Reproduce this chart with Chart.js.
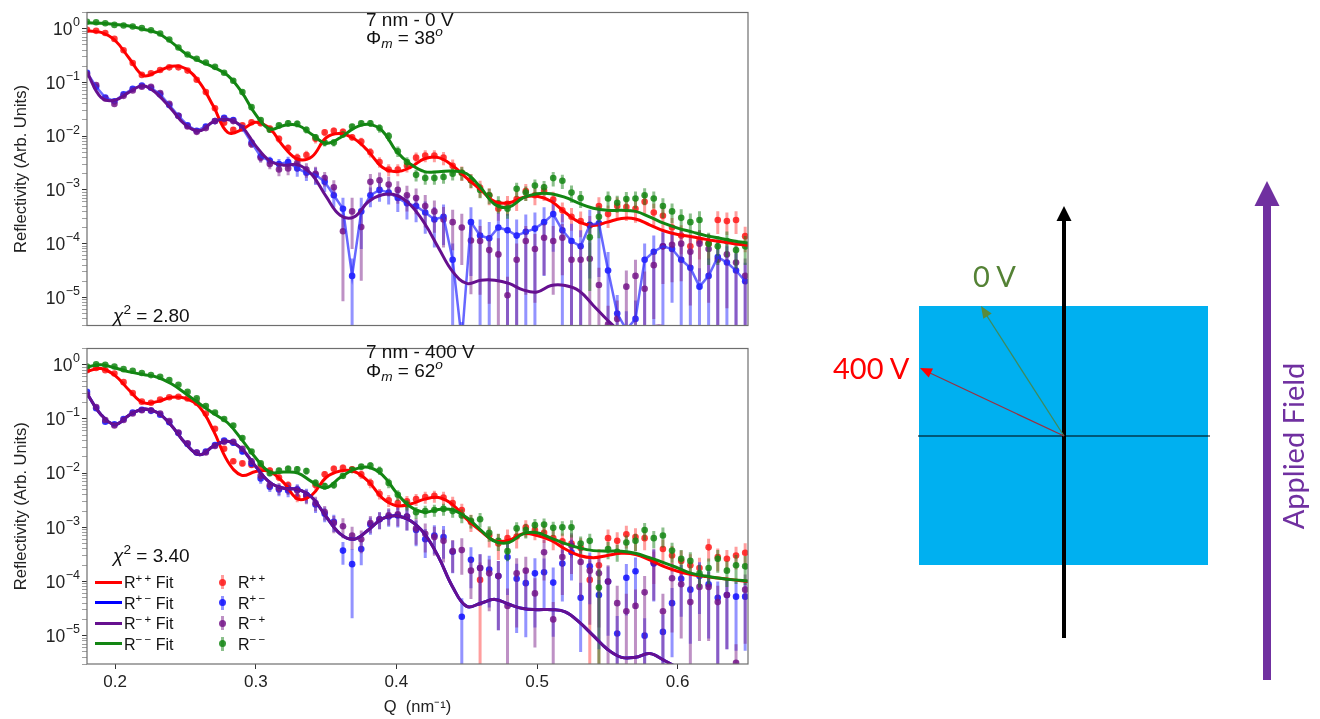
<!DOCTYPE html>
<html>
<head>
<meta charset="utf-8">
<title>Reflectivity fits</title>
<script src="https://cdn.jsdelivr.net/npm/chart.js@4.4.1/dist/chart.umd.min.js"></script>
<style>
html,body{margin:0;padding:0;background:#fff;}
body{width:1320px;height:719px;position:relative;overflow:hidden;font-family:"Liberation Sans",Arial,Helvetica,sans-serif;}
canvas{position:absolute;left:0;}
#cA{top:0;}
#cB{top:336px;}
.t{position:absolute;font-size:19px;line-height:19px;color:#111;white-space:nowrap;}
.t sub,.t sup{font-size:0.72em;line-height:0;position:relative;vertical-align:baseline;}
.t sub{top:0.3em;}
.t sup{top:-0.55em;}
.lg{position:absolute;font-size:16px;line-height:16px;color:#111;white-space:nowrap;}
.lg sup{font-size:0.72em;line-height:0;position:relative;vertical-align:baseline;top:-0.55em;}
.ln{position:absolute;height:3px;width:27px;}
.eb{position:absolute;width:3px;height:14px;}
.dot{position:absolute;width:7px;height:7px;border-radius:50%;}
svg{position:absolute;left:0;top:0;}
</style>
</head>
<body>
<canvas id="cA" width="760" height="338"></canvas>
<canvas id="cB" width="760" height="383"></canvas>

<div class="t" style="left:366px;top:10px;">7 nm - 0 V</div>
<div class="t" style="left:366px;top:28px;">&Phi;<sub><i>m</i></sub> = 38<sup><i>o</i></sup></div>
<div class="t" style="left:113px;top:306px;"><i>&chi;</i><sup>2</sup> = 2.80</div>

<div class="t" style="left:366px;top:342px;">7 nm - 400 V</div>
<div class="t" style="left:366px;top:361px;">&Phi;<sub><i>m</i></sub> = 62<sup><i>o</i></sup></div>
<div class="t" style="left:113px;top:546px;"><i>&chi;</i><sup>2</sup> = 3.40</div>

<div id="legend"></div>

<svg width="1320" height="719" viewBox="0 0 1320 719">
  <rect x="919" y="306" width="289" height="259" fill="#00B0F0"/>
  <line x1="918" y1="436" x2="1210" y2="436" stroke="#000" stroke-width="1"/>
  <line x1="1064" y1="638" x2="1064" y2="218" stroke="#000" stroke-width="4"/>
  <polygon points="1064,206 1056.5,221 1071.5,221" fill="#000"/>
  <line x1="1064" y1="436" x2="987" y2="316" stroke="#3f8a5c" stroke-width="1.3"/>
  <polygon points="981,306 991.7,313.4 983.3,318.8" fill="#5b8a3a"/>
  <line x1="1064" y1="436" x2="930" y2="373" stroke="#9a3040" stroke-width="1.3"/>
  <polygon points="920,368 933,368.6 928.7,377.6" fill="#ff0000"/>
  <rect x="1263" y="200" width="8" height="480" fill="#7030A0"/>
  <polygon points="1267,181 1254.5,206 1279.5,206" fill="#7030A0"/>
  <text x="973" y="287" font-family="Lato, 'Open Sans', sans-serif" font-size="29" fill="#548235">0 V</text>
  <text x="833" y="379" font-family="Lato, 'Open Sans', sans-serif" font-size="29" fill="#ff0000">400 V</text>
  <text transform="translate(1304,446) rotate(-90)" text-anchor="middle" font-family="Lato, 'Open Sans', sans-serif" font-size="29" fill="#7030A0">Applied Field</text>
</svg>

<script>
// ---------------- DATA (values are log10 of reflectivity) ----------------
const qData = [0.1800,0.1865,0.1930,0.1995,0.2060,0.2125,0.2190,0.2255,0.2320,0.2385,
0.2450,0.2515,0.2580,0.2645,0.2710,0.2775,0.2840,0.2905,0.2970,0.3035,
0.3100,0.3165,0.3230,0.3295,0.3360,0.3425,0.3490,0.3555,0.3620,0.3685,
0.3750,0.3815,0.3880,0.3945,0.4010,0.4075,0.4140,0.4205,0.4270,0.4335,
0.4400,0.4465,0.4530,0.4595,0.4660,0.4725,0.4790,0.4855,0.4920,0.4985,
0.5050,0.5115,0.5180,0.5245,0.5310,0.5375,0.5440,0.5505,0.5570,0.5635,
0.5700,0.5765,0.5830,0.5895,0.5960,0.6025,0.6090,0.6155,0.6220,0.6285,
0.6350,0.6415,0.6480];

const qFit = [0.18,0.19,0.20,0.21,0.22,0.23,0.24,0.25,0.26,0.27,
0.28,0.29,0.30,0.31,0.32,0.33,0.34,0.35,0.36,0.37,
0.38,0.39,0.40,0.41,0.42,0.43,0.44,0.45,0.46,0.47,
0.48,0.49,0.50,0.51,0.52,0.53,0.54,0.55,0.56,0.57,
0.58,0.59,0.60,0.61,0.62,0.63,0.64,0.65];

// ---- top panel: 7 nm - 0 V ----
const topFitPP = [-0.04,-0.07,-0.22,-0.55,-0.87,-0.80,-0.70,-0.74,-1.00,-1.45,
-1.93,-1.88,-1.74,-1.86,-2.20,-2.43,-2.38,-2.03,-1.95,-2.05,
-2.28,-2.58,-2.66,-2.58,-2.42,-2.40,-2.55,-2.78,-3.00,-3.22,
-3.24,-3.14,-3.12,-3.21,-3.42,-3.60,-3.66,-3.60,-3.53,-3.54,
-3.65,-3.76,-3.83,-3.87,-3.92,-3.96,-4.00,-4.03];
const topFitMP = [-0.81,-1.28,-1.33,-1.18,-1.06,-1.22,-1.50,-1.79,-1.90,-1.73,
-1.69,-1.82,-2.18,-2.46,-2.54,-2.53,-2.72,-3.12,-3.47,-3.50,
-3.22,-3.09,-3.10,-3.28,-3.62,-4.08,-4.52,-4.74,-4.68,-4.68,
-4.74,-4.86,-4.90,-4.78,-4.78,-4.88,-5.15,-5.42,-5.65,-5.80,
-5.58,-5.55,-5.80,-6.00,-6.20,-6.30,-6.40,-6.50];
const topFitMM = [0.11,0.10,0.08,0.05,-0.01,-0.08,-0.25,-0.46,-0.60,-0.72,
-0.87,-1.18,-1.60,-1.87,-1.80,-1.80,-1.97,-2.13,-2.03,-1.85,
-1.78,-1.90,-2.28,-2.52,-2.66,-2.66,-2.65,-2.70,-2.96,-3.27,
-3.32,-3.15,-3.07,-3.07,-3.14,-3.25,-3.34,-3.38,-3.38,-3.40,
-3.50,-3.62,-3.71,-3.78,-3.85,-3.90,-3.95,-3.99];

const topDatPP = [-0.02,-0.04,-0.08,-0.19,-0.40,-0.64,-0.86,-0.83,-0.77,-0.72,
-0.72,-0.78,-0.95,-1.18,-1.48,-1.75,-1.88,-1.80,-1.74,-1.76,
-1.86,-2.05,-2.22,-2.40,-2.35,-2.05,-1.93,-1.90,-1.92,-2.02,
-2.10,-2.30,-2.48,-2.62,-2.62,-2.55,-2.40,-2.36,-2.36,-2.40,
-2.55,-2.68,-2.82,-2.96,-3.10,-3.35,-3.26,-3.17,-3.02,-3.10,
-3.02,-3.18,-3.38,-3.50,-3.58,-3.66,-3.30,-3.45,-3.30,-3.32,
-3.35,-3.22,-3.42,-3.48,-3.70,-3.85,-4.05,-3.95,-4.00,-3.56,
-3.58,-3.56,-3.86];
const topDatPM = [-0.82,-1.08,-1.28,-1.35,-1.22,-1.12,-1.06,-1.10,-1.22,-1.42,
-1.62,-1.80,-1.90,-1.82,-1.72,-1.66,-1.70,-1.85,-2.12,-2.38,
-2.46,-2.52,-2.48,-2.60,-2.68,-2.72,-2.85,-3.10,-3.35,-4.60,
-3.40,-3.10,-3.00,-3.05,-3.15,-3.25,-3.30,-3.42,-3.55,-3.50,
-4.30,-5.80,-3.60,-3.85,-3.90,-3.70,-3.75,-3.85,-3.78,-3.72,
-3.60,-3.45,-3.75,-3.95,-4.05,-3.65,-3.62,-4.50,-5.30,-5.60,
-5.40,-4.30,-4.15,-4.05,-4.10,-4.30,-4.45,-4.80,-4.60,-4.25,
-4.35,-4.50,-4.70];
const topDatMP = [-0.85,-1.05,-1.30,-1.40,-1.25,-1.15,-1.08,-1.08,-1.20,-1.40,
-1.62,-1.82,-1.92,-1.85,-1.72,-1.68,-1.72,-1.85,-2.15,-2.40,
-2.52,-2.62,-2.60,-2.50,-2.62,-2.70,-2.78,-2.95,-3.77,-3.40,
-3.69,-2.85,-2.82,-2.90,-3.00,-3.10,-3.15,-3.30,-3.40,-3.55,
-3.60,-3.70,-3.94,-3.95,-4.12,-4.20,-4.96,-4.30,-3.95,-4.10,
-3.89,-3.95,-3.89,-4.30,-4.30,-4.28,-4.77,-5.50,-5.40,-4.80,
-4.60,-4.84,-4.40,-4.05,-4.02,-4.00,-4.15,-4.00,-4.10,-4.30,
-4.20,-4.35,-4.60];
const topDatMM = [0.13,0.12,0.10,0.07,0.06,0.04,0.01,-0.03,-0.09,-0.20,
-0.35,-0.48,-0.56,-0.63,-0.71,-0.82,-0.97,-1.18,-1.46,-1.70,
-1.88,-1.80,-1.76,-1.77,-1.88,-2.02,-2.12,-2.12,-1.97,-1.82,
-1.76,-1.76,-1.85,-2.00,-2.28,-2.48,-2.72,-2.78,-2.78,-2.76,
-2.70,-2.68,-2.82,-3.00,-3.10,-3.25,-3.35,-2.98,-3.05,-2.92,
-2.95,-2.78,-2.83,-3.05,-3.15,-3.88,-3.50,-3.16,-3.24,-3.17,
-3.16,-3.10,-3.16,-3.30,-3.40,-3.52,-3.60,-3.56,-4.00,-4.05,
-3.95,-4.12,-4.05];

// relative errors sigma/R
const topErrPP = [.05,.05,.05,.05,.05,.05,.06,.06,.06,.06,.06,.07,.08,.08,.10,.10,.12,.12,.12,.12,
.15,.15,.18,.20,.20,.18,.15,.15,.15,.15,.18,.20,.22,.25,.25,.25,.25,.25,.25,.28,
.30,.30,.30,.35,.35,.40,.40,.40,.35,.35,.35,.40,.40,.45,.50,.50,.45,.45,.45,.45,
.45,.40,.45,.50,.50,.55,.60,.55,.50,.45,.45,.45,.50];
const topErrPM = [.05,.05,.06,.06,.06,.06,.06,.07,.07,.08,.08,.10,.10,.10,.10,.10,.12,.12,.15,.20,
.20,.25,.25,.30,.30,.35,.35,.40,.60,1.1,.80,.40,.40,.40,.45,.50,.50,.60,.70,.70,
1.0,1.2,.90,1.0,1.0,.90,1.0,1.0,1.1,1.0,.90,.80,1.0,1.1,1.0,.90,.90,1.2,1.2,1.2,
1.2,1.0,1.0,1.0,.90,1.0,1.1,1.2,1.1,1.0,1.0,1.1,1.2];
const topErrMP = [.05,.05,.06,.06,.06,.06,.06,.07,.07,.08,.08,.10,.10,.10,.10,.10,.12,.12,.15,.20,
.20,.25,.25,.30,.30,.35,.30,.35,.95,.80,.90,.40,.40,.40,.45,.50,.50,.60,.60,.70,
.70,.80,.90,.90,.90,1.0,1.2,1.0,.90,.90,.80,.90,.80,1.0,1.0,1.0,1.1,1.2,1.2,1.0,
1.0,1.1,.90,.80,.80,.80,.90,.80,.90,1.0,.90,1.0,1.1];
const topErrMM = [.04,.04,.04,.04,.04,.04,.05,.05,.05,.05,.05,.06,.06,.07,.08,.08,.10,.10,.10,.12,
.12,.12,.15,.15,.15,.15,.15,.15,.12,.12,.12,.15,.18,.20,.22,.22,.25,.25,.25,.25,
.25,.28,.28,.30,.32,.35,.35,.30,.30,.30,.30,.30,.30,.35,.35,.90,.60,.35,.35,.35,
.35,.35,.35,.40,.40,.45,.45,.45,.60,.55,.50,.55,.55];

// ---- bottom panel: 7 nm - 400 V ----
const botFitPP = [-0.12,-0.07,-0.20,-0.47,-0.70,-0.68,-0.60,-0.62,-0.78,-1.22,
-1.78,-2.04,-1.97,-1.97,-2.18,-2.48,-2.40,-2.08,-1.96,-1.97,
-2.15,-2.46,-2.60,-2.57,-2.48,-2.45,-2.58,-2.85,-3.07,-3.25,
-3.24,-3.12,-3.15,-3.24,-3.40,-3.52,-3.56,-3.52,-3.48,-3.50,
-3.60,-3.72,-3.81,-3.87,-3.91,-3.94,-3.97,-4.00];
const botFitPM = [-0.53,-0.92,-1.10,-0.93,-0.82,-0.88,-1.12,-1.45,-1.66,-1.50,
-1.41,-1.55,-1.88,-2.17,-2.28,-2.30,-2.45,-2.80,-3.12,-3.22,
-3.05,-2.84,-2.79,-2.88,-3.12,-3.55,-4.10,-4.46,-4.40,-4.33,
-4.42,-4.50,-4.52,-4.52,-4.56,-4.75,-5.00,-5.25,-5.40,-5.40,
-5.33,-5.45,-5.60,-5.80,-6.00,-6.20,-6.40,-6.60];
const botFitMP = [-0.53,-0.92,-1.10,-0.93,-0.82,-0.88,-1.12,-1.45,-1.66,-1.50,
-1.41,-1.55,-1.88,-2.17,-2.28,-2.30,-2.45,-2.80,-3.12,-3.22,
-3.05,-2.84,-2.79,-2.88,-3.12,-3.55,-4.10,-4.46,-4.40,-4.33,
-4.42,-4.50,-4.52,-4.52,-4.56,-4.75,-5.00,-5.25,-5.40,-5.40,
-5.33,-5.45,-5.60,-5.80,-6.00,-6.20,-6.40,-6.60];
const botFitMM = [-0.04,0.00,-0.06,-0.13,-0.18,-0.23,-0.35,-0.53,-0.72,-0.90,
-1.07,-1.38,-1.72,-1.98,-1.98,-2.00,-2.16,-2.27,-2.08,-1.93,
-1.89,-2.03,-2.36,-2.62,-2.72,-2.67,-2.68,-2.82,-3.05,-3.26,
-3.28,-3.12,-3.10,-3.20,-3.30,-3.38,-3.43,-3.44,-3.44,-3.48,
-3.56,-3.65,-3.75,-3.85,-3.90,-3.94,-3.97,-3.99];

const botDatPP = [-0.10,-0.06,-0.10,-0.16,-0.32,-0.52,-0.68,-0.70,-0.64,-0.60,
-0.59,-0.62,-0.70,-0.90,-1.18,-1.55,-1.78,-1.82,-1.85,-1.88,
-1.95,-2.08,-2.22,-2.44,-2.42,-2.22,-2.02,-1.92,-1.90,-1.93,
-2.02,-2.18,-2.38,-2.50,-2.55,-2.52,-2.48,-2.44,-2.42,-2.45,
-2.55,-2.68,-2.90,-3.97,-3.15,-3.30,-3.20,-3.17,-3.00,-3.05,
-3.10,-3.20,-3.26,-3.30,-3.38,-3.97,-3.70,-3.20,-3.25,-3.13,
-3.18,-3.20,-3.65,-3.40,-3.52,-3.62,-3.70,-3.75,-3.37,-3.55,
-3.58,-3.52,-3.47];
const botDatPM = [-0.50,-0.80,-1.05,-1.10,-1.00,-0.88,-0.83,-0.85,-0.92,-1.06,
-1.26,-1.46,-1.62,-1.60,-1.48,-1.40,-1.44,-1.60,-1.82,-2.10,
-2.25,-2.30,-2.32,-2.30,-2.40,-2.58,-2.75,-2.90,-3.43,-3.68,
-3.40,-2.95,-2.85,-2.80,-2.78,-2.80,-3.05,-3.22,-3.15,-3.18,
-3.45,-4.65,-3.60,-3.75,-3.78,-3.90,-3.55,-3.95,-4.03,-3.85,
-3.83,-4.02,-3.67,-3.46,-4.30,-3.72,-4.25,-4.00,-4.96,-3.93,
-3.81,-5.00,-3.67,-4.93,-4.40,-3.95,-4.15,-3.90,-4.05,-4.30,
-4.25,-4.28,-4.28];
const botDatMP = [-0.55,-0.78,-1.02,-1.12,-1.02,-0.90,-0.84,-0.84,-0.90,-1.04,
-1.25,-1.45,-1.62,-1.62,-1.50,-1.42,-1.42,-1.55,-1.78,-2.05,
-2.22,-2.28,-2.28,-2.32,-2.42,-2.55,-2.72,-2.92,-2.98,-3.15,
-3.22,-2.92,-2.85,-2.78,-2.76,-2.80,-3.02,-3.12,-3.18,-3.25,
-3.44,-3.42,-3.80,-3.75,-3.85,-3.90,-4.45,-3.85,-3.80,-4.22,
-3.46,-4.70,-3.55,-3.34,-3.64,-3.80,-3.85,-4.00,-4.40,-4.55,
-4.45,-4.20,-3.65,-4.55,-3.94,-4.05,-4.38,-4.10,-4.10,-4.38,
-4.25,-5.50,-4.15];
const botDatMM = [-0.03,0.01,0.00,-0.03,-0.08,-0.11,-0.15,-0.19,-0.22,-0.28,
-0.37,-0.50,-0.62,-0.76,-0.88,-1.00,-1.12,-1.35,-1.60,-1.82,
-2.00,-1.95,-1.92,-1.93,-1.96,-2.18,-2.24,-2.22,-2.05,-1.94,
-1.88,-1.86,-1.95,-2.18,-2.40,-2.58,-2.72,-2.70,-2.68,-2.66,
-2.70,-2.78,-2.88,-2.85,-3.10,-3.25,-3.44,-3.02,-3.05,-2.96,
-2.95,-3.01,-3.00,-3.00,-3.30,-3.25,-4.11,-3.40,-3.45,-3.28,
-3.25,-3.05,-3.20,-3.15,-3.43,-3.58,-3.62,-3.85,-3.75,-3.58,
-3.80,-3.70,-3.72];

const botErrPP = [.05,.05,.05,.05,.05,.05,.06,.06,.06,.06,.06,.07,.08,.08,.10,.10,.12,.12,.12,.12,
.15,.15,.18,.20,.20,.18,.15,.15,.15,.15,.18,.20,.22,.25,.25,.25,.25,.25,.25,.28,
.30,.30,.35,1.1,.40,.50,.45,.40,.35,.35,.35,.40,.40,.45,.50,1.2,1.0,.45,.45,.45,
.45,.40,.60,.50,.50,.55,.60,.55,.45,.45,.45,.45,.50];
const botErrPM = [.05,.05,.06,.06,.06,.06,.06,.07,.07,.08,.08,.10,.10,.10,.10,.10,.12,.12,.15,.20,
.20,.25,.25,.25,.30,.30,.30,.35,.45,.90,.50,.35,.35,.35,.40,.45,.50,.55,.55,.60,
.60,1.2,.70,.80,.80,.90,.80,.90,.90,.90,.80,.90,.80,.70,.90,.80,.90,.90,1.1,.80,
.80,1.1,.80,1.1,.90,.80,.90,.80,.90,1.0,.90,.90,.90];
const botErrMP = [.05,.05,.06,.06,.06,.06,.06,.07,.07,.08,.08,.10,.10,.10,.10,.10,.12,.12,.15,.20,
.20,.25,.25,.25,.30,.30,.30,.35,.40,.45,.45,.35,.35,.35,.40,.45,.50,.55,.55,.60,
.60,.65,.70,.80,.80,.90,1.1,.90,.80,.90,.70,1.1,.80,.70,.80,.90,.90,1.0,1.1,1.1,
1.0,1.0,.80,1.1,.90,.90,1.0,.90,.90,1.0,.90,1.2,.90];
const botErrMM = [.04,.04,.04,.04,.04,.04,.05,.05,.05,.05,.05,.06,.06,.07,.08,.08,.10,.10,.10,.12,
.12,.12,.15,.15,.15,.15,.15,.15,.12,.12,.12,.15,.18,.20,.22,.22,.25,.25,.25,.25,
.25,.28,.28,.30,.32,.35,.35,.30,.30,.30,.30,.30,.30,.35,.35,.35,1.2,.35,.35,.35,
.35,.35,.35,.40,.40,.45,.45,.45,.50,.45,.50,.55,.55];

// ticks
const xTickValues = [0.2,0.3,0.4,0.5,0.6];
const xTickLabels = ['0.2','0.3','0.4','0.5','0.6'];
const yMajorTicks = [1e-5,1e-4,1e-3,1e-2,1e-1,1];
const yTickBase = '10';
const yTickExps = ['\u22125','\u22124','\u22123','\u22122','\u22121','0'];

// legend text
const legendFitLabels = ['R<sup>+&#8201;+</sup> Fit','R<sup>+&#8201;&minus;</sup> Fit','R<sup>&minus;&#8201;+</sup> Fit','R<sup>&minus;&#8201;&minus;</sup> Fit'];
const legendDataLabels = ['R<sup>+&#8201;+</sup>','R<sup>+&#8201;&minus;</sup>','R<sup>&minus;&#8201;+</sup>','R<sup>&minus;&#8201;&minus;</sup>'];

// ---------------- STYLE ----------------
const COL = {
  pp:{line:'#ff0000', dot:'rgba(255,25,25,0.85)', bar:'rgba(255,40,40,0.45)'},
  pm:{line:'#0000ff', dot:'rgba(15,15,255,0.85)', bar:'rgba(40,40,255,0.5)'},
  mp:{line:'#66108f', dot:'rgba(118,22,138,0.85)', bar:'rgba(125,35,140,0.5)'},
  mm:{line:'#138613', dot:'rgba(20,135,20,0.85)', bar:'rgba(25,130,25,0.5)'}
};
const KEYS = ['pp','pm','mp','mm'];
const FONT = "'Liberation Sans', Arial, Helvetica, sans-serif";

Chart.defaults.font.family = FONT;
Chart.defaults.color = '#222';

const pts = (qs, logs) => qs.map((q,i) => ({x:q, y:Math.pow(10, logs[i])}));

const errorBarPlugin = {
  id:'errbars',
  beforeDatasetDraw(chart, args){
    const ds = chart.data.datasets[args.index];
    if(!ds.errs) return;
    const ys = chart.scales.y, ctx = chart.ctx, ca = chart.chartArea;
    ctx.save();
    ctx.beginPath(); ctx.rect(ca.left, ca.top, ca.right-ca.left, ca.bottom-ca.top); ctx.clip();
    ctx.strokeStyle = ds.barColor; ctx.lineWidth = 3; ctx.lineCap = 'butt';
    ds.data.forEach((p,i) => {
      const r = ds.errs[i];
      const el = args.meta.data[i];
      const top = ys.getPixelForValue(p.y*(1+r));
      const bot = r < 1 ? ys.getPixelForValue(p.y*(1-r)) : ca.bottom + 4;
      ctx.beginPath(); ctx.moveTo(el.x, top); ctx.lineTo(el.x, bot); ctx.stroke();
    });
    ctx.restore();
  }
};
const framePlugin = {
  id:'frame',
  afterDatasetsDraw(chart){
    const ca = chart.chartArea, ctx = chart.ctx;
    ctx.save(); ctx.strokeStyle = '#6e6e6e'; ctx.lineWidth = 1.2;
    ctx.strokeRect(ca.left, ca.top, ca.right-ca.left, ca.bottom-ca.top);
    ctx.restore();
  }
};
// y tick labels "10" with raised exponent, placed through the y scale
const powerLabelPlugin = {
  id:'powerLabels',
  afterDraw(chart){
    const ys = chart.scales.y, ctx = chart.ctx;
    const xr = chart.chartArea.left - 7;
    ctx.save();
    ctx.fillStyle = '#222';
    ctx.textBaseline = 'alphabetic';
    ctx.textAlign = 'left';
    yMajorTicks.forEach((v,k) => {
      const y = ys.getPixelForValue(v);
      ctx.font = '12.5px ' + FONT;
      const we = ctx.measureText(yTickExps[k]).width;
      ctx.font = '17.5px ' + FONT;
      const wb = ctx.measureText(yTickBase).width;
      const x0 = xr - we - wb - 0.5;
      ctx.fillText(yTickBase, x0, y + 6.3);
      ctx.font = '12.5px ' + FONT;
      ctx.fillText(yTickExps[k], x0 + wb + 0.5, y - 2.5);
    });
    ctx.restore();
  }
};

function buildLogTicks(scale){
  const t = [];
  for(let e=-6; e<=0; e++) for(let m=1; m<=9; m++){
    const v = m*Math.pow(10,e);
    if(v >= scale.min*0.999 && v <= scale.max*1.001) t.push({value:v, major:m===1});
  }
  scale.ticks = t;
}

function makeDatasets(fits, dats, errs){
  const ds = [];
  const rank = {pp:3, pm:2, mp:1, mm:0};
  KEYS.forEach((k,j) => {
    ds.push({type:'scatter', data:pts(qData, dats[j]), errs:errs[j], barColor:COL[k].bar,
      pointRadius:3.3, pointHoverRadius:3.3, pointBackgroundColor:COL[k].dot, pointBorderWidth:0,
      showLine:false, order:10+rank[k]});
  });
  KEYS.forEach((k,j) => {
    const f = fits[j];
    ds.push({type:'line', data:pts(f.q, f.v), borderColor:f.color || COL[k].line, borderWidth:f.width || 3,
      pointRadius:0, pointHoverRadius:0, tension:f.tension, fill:false, order:rank[k]});
  });
  return ds;
}

function makeOptions(bottom){
  return {
    responsive:false, animation:false, events:[],
    layout:{padding:{left:0, right:12, top: bottom ? 1 : 10, bottom: bottom ? 0 : 1}},
    plugins:{legend:{display:false}, tooltip:{enabled:false}},
    scales:{
      x:{type:'linear', min:0.18, max:0.65, display:bottom,
        afterBuildTicks: s => { s.ticks = xTickValues.map(v => ({value:v})); },
        afterFit: s => { s.height = bottom ? 55 : 0; },
        grid:{display:true, drawOnChartArea:false, drawTicks:true, tickLength:5, tickColor:'#333'},
        border:{display:false},
        ticks:{font:{size:17}, color:'#222', padding:3, autoSkip:false, maxRotation:0,
          callback:(v,i) => xTickLabels[i]},
        title:{display:true, text:'Q  (nm\u207B\u00B9)', font:{size:16.5}, color:'#222', padding:{top:0, bottom:2}}
      },
      y:{type:'logarithmic', min:3e-6, max:2.0,
        afterBuildTicks: buildLogTicks,
        afterFit: s => { s.width = 87; },
        grid:{display:true, drawOnChartArea:false, drawTicks:true, tickLength:5,
          tickColor: c => (c.tick && c.tick.major) ? '#333' : '#888',
          tickWidth: c => (c.tick && c.tick.major) ? 1 : 0.8},
        border:{display:false},
        ticks:{font:{size:17.5}, color:'#222', padding:2, autoSkip:false, callback:() => ''},
        title:{display:true, text:'Reflectivity (Arb. Units)', font:{size:16.5}, color:'#222', padding:{top:12, bottom:0}}
      }
    }
  };
}

new Chart(document.getElementById('cA'), {
  type:'scatter',
  data:{datasets: makeDatasets(
    [{q:qFit, v:topFitPP, tension:0.4},
     {q:qData, v:topDatPM, tension:0, color:'rgba(45,45,255,0.72)', width:2.5},
     {q:qFit, v:topFitMP, tension:0.4},
     {q:qFit, v:topFitMM, tension:0.4}],
    [topDatPP, topDatPM, topDatMP, topDatMM],
    [topErrPP, topErrPM, topErrMP, topErrMM])},
  options: makeOptions(false),
  plugins:[errorBarPlugin, framePlugin, powerLabelPlugin]
});

new Chart(document.getElementById('cB'), {
  type:'scatter',
  data:{datasets: makeDatasets(
    [{q:qFit, v:botFitPP, tension:0.4},
     {q:qFit, v:botFitPM, tension:0.4},
     {q:qFit, v:botFitMP, tension:0.4},
     {q:qFit, v:botFitMM, tension:0.4}],
    [botDatPP, botDatPM, botDatMP, botDatMM],
    [botErrPP, botErrPM, botErrMP, botErrMM])},
  options: makeOptions(true),
  plugins:[errorBarPlugin, framePlugin, powerLabelPlugin]
});

// legend (HTML text)
(function(){
  const L = document.getElementById('legend');
  const rowY = [582, 602.5, 623, 643.5];
  let h = '';
  KEYS.forEach((k,j) => {
    const y = rowY[j];
    h += `<div class="ln" style="left:95px;top:${y-1.5}px;background:${COL[k].line}"></div>`;
    h += `<div class="lg" style="left:124px;top:${y-7}px;">${legendFitLabels[j]}</div>`;
    h += `<div class="eb" style="left:220.5px;top:${y-7}px;background:${COL[k].bar}"></div>`;
    h += `<div class="dot" style="left:218.5px;top:${y-3.5}px;background:${COL[k].dot}"></div>`;
    h += `<div class="lg" style="left:238px;top:${y-7}px;">${legendDataLabels[j]}</div>`;
  });
  L.innerHTML = h;
})();
</script>
</body>
</html>
